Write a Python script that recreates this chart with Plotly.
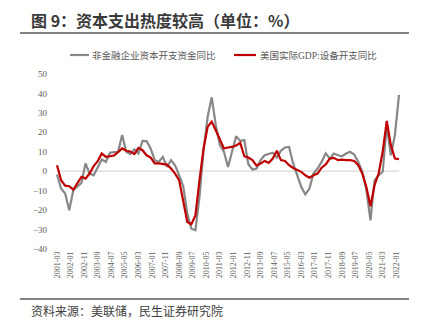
import plotly.graph_objects as go

# Quarterly data, 2001Q1 .. 2022Q1
start_year, start_month = 2001, 3
gray_vals = [
    -1.7, -8.9, -11.5, -20.1, -9.8, -7.7, -6.0, 4.0, -1.2, -2.1,
    2.2, 6.0, 4.8, 9.5, 9.8, 10.0, 18.6, 10.0, 8.8, 11.2,
    9.1, 15.6, 15.5, 11.7, 5.7, 4.8, 7.4, 2.2, 5.7, 3.1,
    -2.1, -7.7, -21.8, -29.6, -30.4, -13.2, 10.8, 28.0, 38.0, 23.7,
    13.4, 10.0, 2.2, 10.8, 18.0, 15.6, 16.0, 3.6, 0.9, 1.4,
    5.7, 8.2, 8.8, 9.5, 7.0, 10.5, 12.2, 12.5, 4.0, -2.1,
    -8.1, -11.9, -8.9, -1.2, 1.4, 4.8, 9.2, 6.5, 9.1, 8.2,
    7.7, 9.1, 10.0, 8.6, 4.8, -0.3, -9.8, -25.3, -4.6, -2.1,
    -0.3, 23.7, 8.2, 18.6, 39.2,
]
red_vals = [
    3.1, -4.6, -7.4, -7.7, -9.5, -6.4, -2.9, -3.8, -1.2, 2.6,
    5.2, 9.1, 7.4, 7.7, 8.1, 9.8, 11.7, 10.5, 10.1, 8.8,
    12.0, 10.8, 8.2, 7.0, 4.0, 4.0, 3.8, 3.4, 1.4, -1.2,
    -4.6, -15.0, -26.1, -27.3, -22.7, -4.6, 11.7, 22.9, 25.4, 21.1,
    16.0, 11.7, 12.2, 12.5, 13.2, 14.6, 7.7, 7.0, 5.7, 2.9,
    4.0, 5.3, 4.3, 6.5, 10.5, 5.7, 5.3, 3.1, 1.7, 0.9,
    -0.3, -2.1, -3.3, -2.1, -1.2, 1.8, 3.5, 6.5, 6.9, 5.7,
    6.0, 5.7, 5.7, 5.3, 3.1, -1.2, -8.1, -18.0, -7.2, -1.2,
    10.0, 25.9, 13.4, 6.5, 6.2,
]
tick_labels = [
    "2001-03", "2002-01", "2002-11", "2003-09", "2004-07", "2005-05",
    "2006-03", "2007-01", "2007-11", "2008-09", "2009-07", "2010-05",
    "2011-03", "2012-01", "2012-11", "2013-09", "2014-07", "2015-05",
    "2016-03", "2017-01", "2017-11", "2018-09", "2019-07", "2020-05",
    "2021-03", "2022-01",
]
y_ticks = [50, 40, 30, 20, 10, 0, -10, -20, -30, -40]
series_names = ["非金融企业资本开支资金同比", "美国实际GDP:设备开支同比"]
title_text = "图 9：资本支出热度较高（单位：%）"
source_text = "资料来源：美联储，民生证券研究院"


def month_index(label):
    y, m = label.split("-")
    return (int(y) - start_year) * 12 + (int(m) - start_month)


x_q = [3 * i for i in range(len(gray_vals))]
tick_pos = [month_index(t) for t in tick_labels]

GRAY = "#878787"
RED = "#C00000"
TXT = "#595959"

fig = go.Figure()
fig.add_trace(go.Scatter(x=x_q, y=gray_vals, mode="lines", name=series_names[0],
                         line=dict(color=GRAY, width=2.2), showlegend=False))
fig.add_trace(go.Scatter(x=x_q, y=red_vals, mode="lines", name=series_names[1],
                         line=dict(color=RED, width=2.2), showlegend=False))

# plot area in pixels: x 52..404, y 74..249
L, R, T, B = 52, 404, 74, 249
W, H = R - L, B - T


def px(xp):
    return (xp - L) / W


def py(yp):
    return (B - yp) / H


shapes = [
    dict(type="line", xref="x", yref="y", x0=0, x1=x_q[-1], y0=0, y1=0,
         line=dict(color="#D9D9D9", width=1.2), layer="below"),
    dict(type="line", xref="paper", yref="paper", x0=px(20), x1=px(409),
         y0=py(33), y1=py(33), line=dict(color="#595959", width=1.6)),
    dict(type="line", xref="paper", yref="paper", x0=px(20), x1=px(409),
         y0=py(299), y1=py(299), line=dict(color="#595959", width=1.6)),
    dict(type="line", xref="paper", yref="paper", x0=px(70), x1=px(89),
         y0=py(55), y1=py(55), line=dict(color=GRAY, width=2.2)),
    dict(type="line", xref="paper", yref="paper", x0=px(234), x1=px(256),
         y0=py(55), y1=py(55), line=dict(color=RED, width=2.2)),
]

serif = "Liberation Serif, Noto Sans CJK SC, serif"
annotations = [
    dict(text="<b>" + title_text + "</b>", xref="paper", yref="paper",
         x=px(29), y=py(20), xanchor="left", yanchor="middle", showarrow=False,
         font=dict(family="Noto Sans CJK SC", size=16, color="#3A3A3A")),
    dict(text=source_text, xref="paper", yref="paper",
         x=px(29), y=py(310), xanchor="left", yanchor="middle", showarrow=False,
         font=dict(family="Noto Sans CJK SC", size=12, color="#404040")),
    dict(text=series_names[0], xref="paper", yref="paper",
         x=px(90), y=py(55), xanchor="left", yanchor="middle", showarrow=False,
         font=dict(family=serif, size=9.5, color=TXT)),
    dict(text=series_names[1], xref="paper", yref="paper",
         x=px(258), y=py(55), xanchor="left", yanchor="middle", showarrow=False,
         font=dict(family=serif, size=9.5, color=TXT)),
]

fig.update_layout(
    width=428, height=332,
    margin=dict(l=L, r=428 - R, t=T, b=332 - B),
    paper_bgcolor="white", plot_bgcolor="white",
    shapes=shapes, annotations=annotations,
    xaxis=dict(range=[-3.7, 255.7], tickmode="array", tickvals=tick_pos,
               ticktext=tick_labels, tickangle=-90, showgrid=False,
               zeroline=False, showline=False, ticks="",
               tickfont=dict(family=serif, size=8, color=TXT)),
    yaxis=dict(range=[-40, 50], tickmode="array", tickvals=y_ticks,
               showgrid=False, zeroline=False, showline=False, ticks="",
               ticklabelstandoff=4,
               tickfont=dict(family=serif, size=9, color=TXT)),
)

fig.write_html("out.html")
